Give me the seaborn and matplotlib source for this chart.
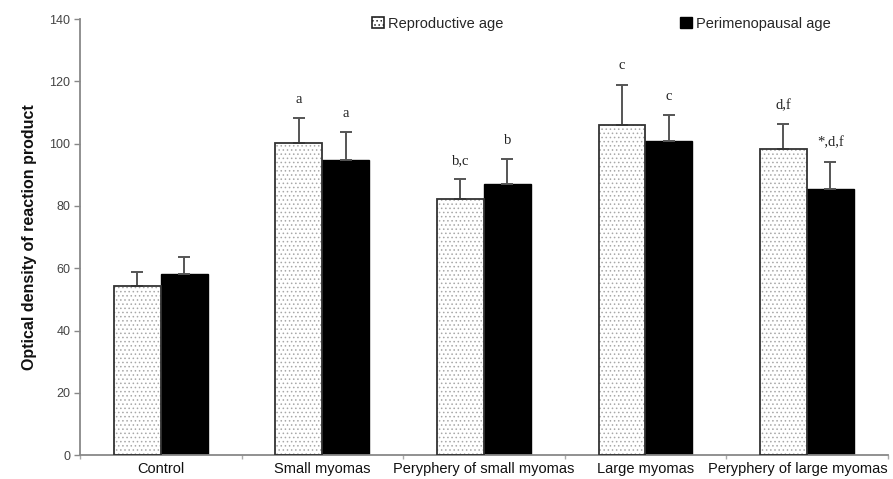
import numpy as np
import pandas as pd
import seaborn as sns
import matplotlib.pyplot as plt
import matplotlib.transforms as mtransforms
from matplotlib.patches import Patch, Rectangle

categories = ["Control", "Small myomas", "Peryphery of small myomas",
              "Large myomas", "Peryphery of large myomas"]
groups = ["Reproductive age", "Perimenopausal age"]
repro_mean = [54.4, 100.1, 82.2, 106.0, 98.3]
repro_err = [4.4, 8.1, 6.4, 13.0, 7.9]
peri_mean = [58.2, 94.7, 87.2, 101.0, 85.5]
peri_err = [5.3, 9.1, 7.8, 8.3, 8.7]
repro_marks = ["", "a", "b,c", "c", "d,f"]
peri_marks = ["", "a", "b", "c", "*,d,f"]

df = pd.DataFrame({
    "category": categories * 2,
    "group": [groups[0]] * 5 + [groups[1]] * 5,
    "value": repro_mean + peri_mean,
})

sns.set_theme(style="white")
plt.rcParams["font.family"] = ["Liberation Sans", "DejaVu Sans"]
plt.rcParams["hatch.linewidth"] = 0.6

fig = plt.figure(figsize=(8.93, 4.79), dpi=100)
ax = fig.add_axes([0.0896, 0.050, 0.9044, 0.910])

sns.barplot(data=df, x="category", y="value", hue="group", order=categories,
            hue_order=groups, palette=["white", "black"], width=0.58, gap=0,
            errorbar=None, legend=False, ax=ax, saturation=1)

patches = list(ax.patches)
repro_patches = patches[:5]
peri_patches = patches[5:10]

# dotted fill with a separate dark outline
for p in repro_patches:
    p.set_hatch("....")
    p.set_edgecolor("#a8a8a8")
    p.set_linewidth(0)
    ax.add_patch(Rectangle((p.get_x(), p.get_y()), p.get_width(), p.get_height(),
                           fill=False, edgecolor="#333333", linewidth=1.3, zorder=3))
for p in peri_patches:
    p.set_edgecolor("black")
    p.set_linewidth(1)

for plist, means, errs, marks in [(repro_patches, repro_mean, repro_err, repro_marks),
                                  (peri_patches, peri_mean, peri_err, peri_marks)]:
    xs = [p.get_x() + p.get_width() / 2 for p in plist]
    ax.errorbar(xs, means, yerr=[np.zeros(5), errs], fmt="none",
                ecolor="#555555", elinewidth=1.4, capsize=4, capthick=1.4, zorder=2)
    for x, m, e, t in zip(xs, means, errs, marks):
        if t:
            ax.text(x, m + e + 6, t, ha="center", va="center", fontsize=10.5,
                    family=["Liberation Serif", "DejaVu Serif"], color="#222222")

ax.set_ylim(0, 140)
ax.set_xlim(-0.5, 4.5)
ax.set_yticks(range(0, 141, 20))
ax.tick_params(axis="y", labelsize=9, labelcolor="#444444", length=4, width=1,
               color="#888888", direction="out", left=True, pad=3)
ax.set_xticks(range(5))
ax.set_xticklabels(categories, fontsize=10.5, color="#111111")
ax.tick_params(axis="x", length=0, pad=5)
ax.set_xticks(np.arange(-0.5, 4.6, 1), minor=True)
ax.tick_params(axis="x", which="minor", length=3, width=1, color="#aaaaaa",
               direction="out", bottom=True)

# last label nudged left so it stays inside the figure
last = ax.get_xticklabels()[-1]
last.set_transform(last.get_transform() +
                   mtransforms.ScaledTranslation(-0.09, 0, fig.dpi_scale_trans))

for s in ["top", "right"]:
    ax.spines[s].set_visible(False)
for s in ["left", "bottom"]:
    ax.spines[s].set_color("#888888")
    ax.spines[s].set_linewidth(1.3)

ax.set_xlabel("")
ax.set_ylabel("Optical density of reaction product", fontsize=11.5,
              fontweight="bold", color="#111111", labelpad=9)

handles = [Patch(facecolor="white", edgecolor="#222222", hatch="....", linewidth=1.2),
           Patch(facecolor="black", edgecolor="black")]
ax.legend(handles, groups, loc="center", bbox_to_anchor=(0.646, 0.99), ncol=2,
          frameon=False, fontsize=10.5, handlelength=0.8, handleheight=0.8,
          handletextpad=0.3, columnspacing=12.1, borderaxespad=0)

plt.savefig("out.png", dpi=100)
